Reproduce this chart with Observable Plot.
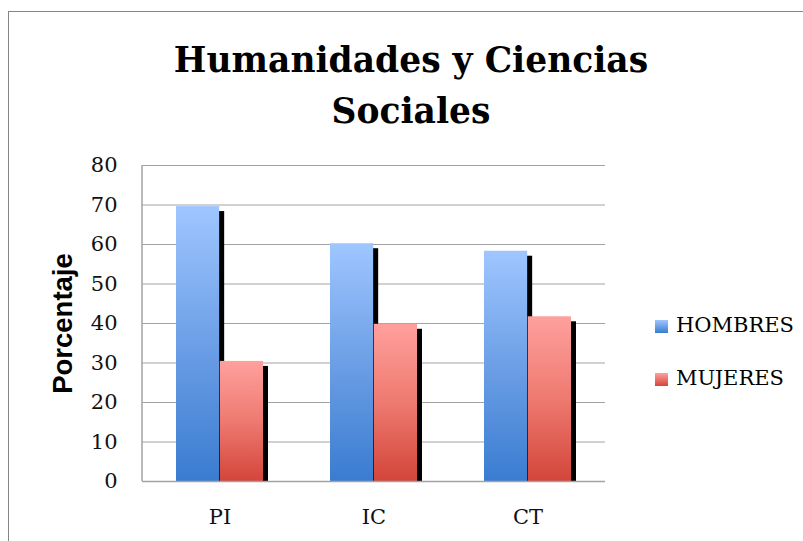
<!DOCTYPE html>
<html>
<head>
<meta charset="utf-8">
<script src="https://cdn.jsdelivr.net/npm/d3@7"></script>
<script src="https://cdn.jsdelivr.net/npm/@observablehq/plot@0.6"></script>
<style>
  html, body { margin: 0; padding: 0; background: #fff; }
  #wrap { position: relative; width: 803px; height: 541px; overflow: hidden; }
  #frame { position: absolute; left: 8px; top: 11px; width: 820px; height: 560px;
           border-left: 1.5px solid #858585; border-top: 1.5px solid #858585; }
  #title { position: absolute; left: 0; width: 822px; top: 35px; text-align: center;
           font-family: "DejaVu Serif", serif; font-weight: bold; font-size: 34.5px;
           line-height: 51px; color: #000; }
  #chart { position: absolute; left: 0; top: 0; }
  .leg { position: absolute; left: 655px; font-family: "DejaVu Serif", serif; font-size: 21px; color: #000; }
  .leg .sw { position: absolute; left: 0; width: 13px; height: 13px; }
  .leg .lb { position: absolute; left: 21px; white-space: nowrap; line-height: 22px; }
</style>
</head>
<body>
<div id="wrap">
  <div id="frame"></div>
  <div id="title">Humanidades y Ciencias<br>Sociales</div>
  <div id="chart"></div>
  <div id="legend"></div>
</div>
<script>
const categories = ["PI", "IC", "CT"];
const seriesNames = ["HOMBRES", "MUJERES"];
const hombres = [69.6, 60.2, 58.3];
const mujeres = [30.4, 39.8, 41.7];
const yTicks = [0, 10, 20, 30, 40, 50, 60, 70, 80];
const yLabel = "Porcentaje";

const data = categories.flatMap((c, i) => [
  {cat: c, serie: seriesNames[0], value: hombres[i]},
  {cat: c, serie: seriesNames[1], value: mujeres[i]}
]);
const dH = data.filter(d => d.serie === seriesNames[0]);
const dM = data.filter(d => d.serie === seriesNames[1]);

const W = 803, H = 541;
const mL = 142, mR = 198, mT = 165, mB = 60;
const pIn = 0.432, pOut = 0.216;
const step = (W - mL - mR) / (categories.length - pIn + 2 * pOut);
const half = step * (1 - pIn) / 2;

const gridColor = "#a3a3a3";

const plot = Plot.plot({
  width: W, height: H,
  marginLeft: mL, marginRight: mR, marginTop: mT, marginBottom: mB,
  style: {background: "transparent", overflow: "visible"},
  x: {domain: categories, paddingInner: pIn, paddingOuter: pOut, axis: null},
  y: {domain: [0, 80], axis: null},
  marks: [
    Plot.ruleY(yTicks, {y: d => d, stroke: gridColor, strokeWidth: 1.2}),
    Plot.barY(dH, {x: "cat", y: "value", fill: "#000", dx: 5, insetTop: 5, insetRight: half}),
    Plot.barY(dH, {x: "cat", y: "value", fill: "url(#gradH)", insetRight: half}),
    Plot.barY(dM, {x: "cat", y: "value", fill: "#000", dx: 5, insetTop: 5, insetLeft: half}),
    Plot.barY(dM, {x: "cat", y: "value", fill: "url(#gradM)", insetLeft: half}),
    Plot.ruleY([0], {y: d => d, stroke: gridColor, strokeWidth: 1.5}),
    Plot.text(yTicks, {y: d => d, frameAnchor: "left", dx: -25, textAnchor: "end",
      fontSize: 21, fontFamily: "DejaVu Serif", fill: "#111"}),
    Plot.text(categories, {x: d => d, frameAnchor: "bottom", dy: 42,
      fontSize: 21, fontFamily: "DejaVu Serif", fill: "#111"}),
    Plot.text([yLabel], {text: d => d, frameAnchor: "left", dx: -79, rotate: -90,
      textAnchor: "middle",
      fontSize: 27.5, fontWeight: "bold", fontFamily: "Liberation Sans", fill: "#000"})
  ]
});

const ns = "http://www.w3.org/2000/svg";
const defs = document.createElementNS(ns, "defs");
defs.innerHTML = `
  <linearGradient id="gradH" x1="0" y1="0" x2="0" y2="1">
    <stop offset="0" stop-color="#9fc6ff"/>
    <stop offset="0.5" stop-color="#6c9fe6"/>
    <stop offset="1" stop-color="#3a7cd0"/>
  </linearGradient>
  <linearGradient id="gradM" x1="0" y1="0" x2="0" y2="1">
    <stop offset="0" stop-color="#ffa09d"/>
    <stop offset="0.5" stop-color="#ee7a70"/>
    <stop offset="1" stop-color="#d3453a"/>
  </linearGradient>`;
plot.insertBefore(defs, plot.firstChild);

// left axis line, using the y scale
const ys = plot.scale("y");
const axis = document.createElementNS(ns, "line");
axis.setAttribute("x1", mL); axis.setAttribute("x2", mL);
axis.setAttribute("y1", ys.apply(80)); axis.setAttribute("y2", ys.apply(0));
axis.setAttribute("stroke", gridColor); axis.setAttribute("stroke-width", 1.5);
plot.appendChild(axis);

document.getElementById("chart").appendChild(plot);

// legend
const legendColors = [
  "linear-gradient(#9fc6ff, #3a7cd0)",
  "linear-gradient(#ffa09d, #d3453a)"
];
const legendTops = [320, 373];
const legend = document.getElementById("legend");
seriesNames.forEach((s, i) => {
  const item = document.createElement("div");
  item.className = "leg";
  item.style.top = legendTops[i] + "px";
  item.innerHTML = `<div class="sw" style="background:${legendColors[i]}"></div><div class="lb" style="top:-6px">${s}</div>`;
  legend.appendChild(item);
});
</script>
</body>
</html>
